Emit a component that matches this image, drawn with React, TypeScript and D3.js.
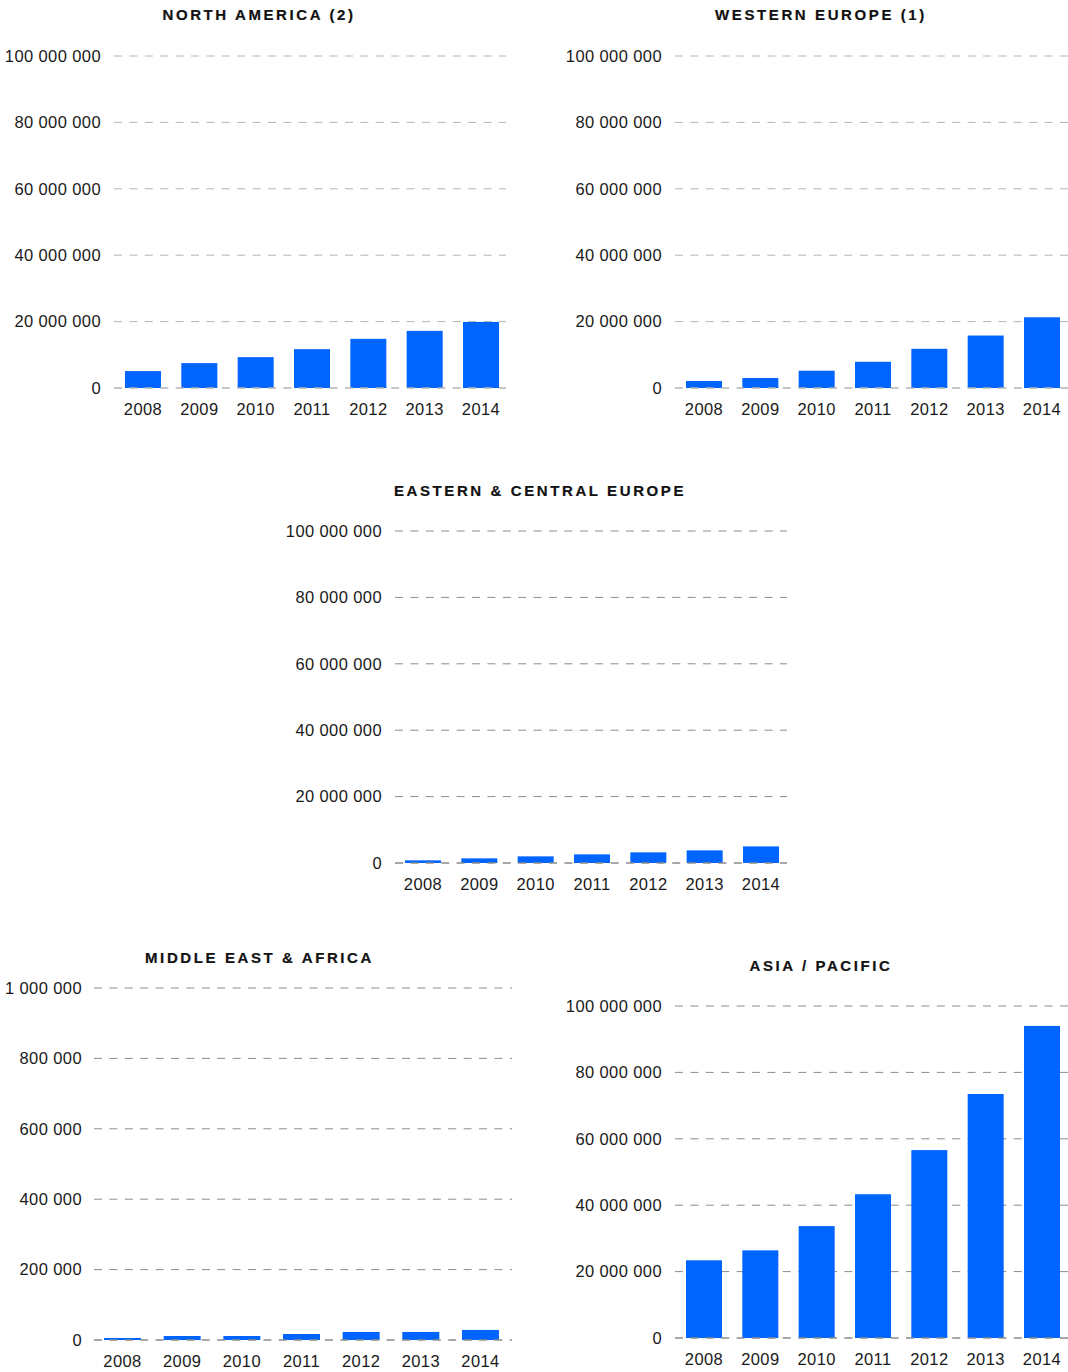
import React from "react";
import * as d3 from "d3";

const years = ["2008", "2009", "2010", "2011", "2012", "2013", "2014"];

const northAmerica = [5.1e6, 7.5e6, 9.3e6, 11.7e6, 14.8e6, 17.2e6, 19.9e6];
const westernEurope = [2.1e6, 3.0e6, 5.2e6, 7.9e6, 11.8e6, 15.8e6, 21.3e6];
const easternCentralEurope = [0.8e6, 1.4e6, 2.0e6, 2.6e6, 3.2e6, 3.8e6, 5.0e6];
const middleEastAfrica = [5.7e3, 11.4e3, 11.4e3, 17e3, 22.9e3, 22.9e3, 28.6e3];
const asiaPacific = [23.4e6, 26.4e6, 33.7e6, 43.3e6, 56.6e6, 73.5e6, 94.0e6];

const ticksLarge = [0, 20e6, 40e6, 60e6, 80e6, 100e6];
const ticksSmall = [0, 200e3, 400e3, 600e3, 800e3, 1000e3];

const titles = [
  "NORTH AMERICA (2)",
  "WESTERN EUROPE (1)",
  "EASTERN & CENTRAL EUROPE",
  "MIDDLE EAST & AFRICA",
  "ASIA / PACIFIC",
];

const fmt = d3.formatLocale({
  decimal: ".",
  thousands: " ",
  grouping: [3],
  currency: ["", ""],
}).format(",d");

const BAR = "#0064ff";
const FONT = "'Liberation Sans', Arial, Helvetica, sans-serif";

type Panel = {
  title: string;
  values: number[];
  ticks: number[];
  titleX: number;
  titleY: number;
  x0: number;
  x1: number;
  b0: number;
  b1: number;
  padInner: number;
  padOuter: number;
  yTop: number;
  yZero: number;
  labelX: number;
  grid: string;
};

const panels: Panel[] = [
  { title: titles[0], values: northAmerica, ticks: ticksLarge, titleX: 259, titleY: 15, x0: 114, x1: 506, b0: 114, b1: 510, padInner: 0.361, padOuter: 0.195, yTop: 56, yZero: 388, labelX: 101, grid: "#b4b4b4" },
  { title: titles[1], values: westernEurope, ticks: ticksLarge, titleX: 821, titleY: 15, x0: 675, x1: 1068, b0: 675, b1: 1071, padInner: 0.361, padOuter: 0.195, yTop: 56, yZero: 388, labelX: 662, grid: "#b4b4b4" },
  { title: titles[2], values: easternCentralEurope, ticks: ticksLarge, titleX: 540, titleY: 491, x0: 395, x1: 787, b0: 394, b1: 790, padInner: 0.361, padOuter: 0.195, yTop: 531, yZero: 863, labelX: 382, grid: "#8c8c8c" },
  { title: titles[3], values: middleEastAfrica, ticks: ticksSmall, titleX: 259.5, titleY: 958, x0: 94, x1: 512, b0: 94, b1: 509, padInner: 0.38, padOuter: 0.168, yTop: 988, yZero: 1340, labelX: 82, grid: "#8c8c8c" },
  { title: titles[4], values: asiaPacific, ticks: ticksLarge, titleX: 821, titleY: 966, x0: 675, x1: 1068, b0: 675, b1: 1071, padInner: 0.361, padOuter: 0.195, yTop: 1006, yZero: 1338, labelX: 662, grid: "#8c8c8c" },
];

function Chart({ p }: { p: Panel }) {
  const maxT = p.ticks[p.ticks.length - 1];
  const y = d3.scaleLinear().domain([0, maxT]).range([p.yZero, p.yTop]);
  const x = d3
    .scaleBand<string>()
    .domain(years)
    .range([p.b0, p.b1])
    .paddingInner(p.padInner)
    .paddingOuter(p.padOuter);
  return (
    <g>
      <text
        x={p.titleX}
        y={p.titleY}
        dy="0.35em"
        textAnchor="middle"
        fontFamily={FONT}
        fontWeight="bold"
        fontSize={15}
        letterSpacing={2.6}
        fill="#111"
        stroke="#111"
        strokeWidth={0.2}
      >
        {p.title}
      </text>
      {p.ticks.filter((t) => t > 0).map((t) => (
        <line
          key={"g" + t}
          x1={p.x0}
          x2={p.x1}
          y1={y(t)}
          y2={y(t)}
          stroke={p.grid}
          strokeWidth={1}
          strokeDasharray="8 7.4"
        />
      ))}
      {p.values.map((v, i) => (
        <rect
          key={years[i]}
          x={x(years[i])}
          width={x.bandwidth()}
          y={y(v)}
          height={y(0) - y(v)}
          fill={BAR}
        />
      ))}
      <line
        x1={p.x0}
        x2={p.x1}
        y1={y(0)}
        y2={y(0)}
        stroke={p.grid}
        strokeWidth={1.5}
        strokeDasharray="8 7.4"
      />
      {p.ticks.map((t) => (
        <text
          key={"t" + t}
          x={p.labelX}
          y={y(t)}
          dy="0.35em"
          textAnchor="end"
          fontFamily={FONT}
          fontSize={16.5}
          letterSpacing={0.4}
          fill="#1a1a1a"
        >
          {fmt(t)}
        </text>
      ))}
      {years.map((yr) => (
        <text
          key={"x" + yr}
          x={(x(yr) ?? 0) + x.bandwidth() / 2}
          y={p.yZero + 27}
          textAnchor="middle"
          fontFamily={FONT}
          fontSize={16.5}
          letterSpacing={0.4}
          fill="#1a1a1a"
        >
          {yr}
        </text>
      ))}
    </g>
  );
}

export default function App() {
  return (
    <div>
      <style>{`body{margin:0;background:#fff}`}</style>
      <svg width={1068} height={1372} style={{ display: "block" }}>
        <rect width={1068} height={1372} fill="#fff" />
        {panels.map((p) => (
          <Chart key={p.title} p={p} />
        ))}
      </svg>
    </div>
  );
}
